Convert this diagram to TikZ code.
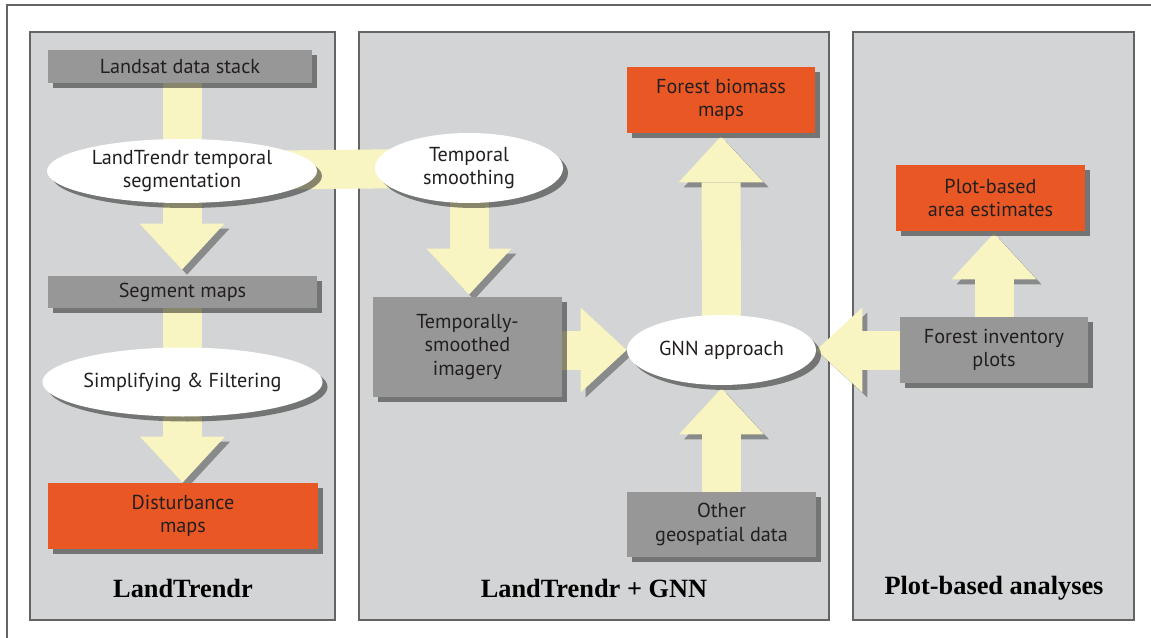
\documentclass[tikz,border=0pt]{standalone}
\usepackage{fontspec}
\setmainfont{PT Sans}
\newfontfamily\titlefont{Liberation Serif}
\usepackage{xcolor}
\usetikzlibrary{shapes.geometric, arrows.meta, positioning, shadows}
\definecolor{panelgray}{RGB}{211, 212, 213}
\definecolor{boxgray}{RGB}{151, 151, 151}
\definecolor{mapred}{RGB}{233, 88, 36}
\definecolor{flowyellow}{RGB}{248, 245, 194}
\definecolor{framegray}{RGB}{100, 100, 100}
\definecolor{inkgray}{RGB}{35, 31, 32}
\pgfdeclarelayer{panels}
\pgfdeclarelayer{flows}
\pgfsetlayers{panels,flows,main}

\begin{document}
\begin{tikzpicture}[
    font=\fontsize{11.5}{13.2}\selectfont,
    softshadow/.style={drop shadow={shadow xshift=0.1cm, shadow yshift=-0.1cm, opacity=0.45, fill=black}},
    databox/.style={rectangle, fill=boxgray, text=inkgray, align=center, inner sep=0pt, softshadow},
    mapbox/.style={databox, fill=mapred},
    process/.style={ellipse, fill=white, text=inkgray, align=center, inner sep=0pt, softshadow},
    panel/.style={rectangle, draw=framegray, line width=0.9pt, fill=panelgray},
    paneltitle/.style={font=\titlefont\bfseries\fontsize{15}{18}\selectfont, text=black},
    flow/.style={draw=flowyellow, line width=0.78cm,
                 preaction={draw=black, opacity=0.35, transform canvas={shift={(0.1cm,-0.1cm)}}}},
    arrow/.style={flow, -{Triangle[width=1.7cm, length=0.92cm, line width=0pt]}}
]
    \useasboundingbox (0,0) rectangle (23.02,-12.76);

    \begin{pgfonlayer}{panels}
        \draw[framegray, line width=0.9pt] (0.14,-0.10) rectangle (23.6,-13.3);
        \draw[panel] (0.60,-0.64) rectangle (6.70,-12.40);
        \draw[panel] (7.18,-0.64) rectangle (16.58,-12.40);
        \draw[panel] (17.06,-0.64) rectangle (22.68,-12.40);
    \end{pgfonlayer}

    % LandTrendr
    \node[databox, minimum width=5.28cm, minimum height=0.66cm] (landsat) at (3.60,-1.33) {Landsat data stack};
    \node[process, minimum width=5.40cm, minimum height=1.28cm] (segment) at (3.64,-3.42) {LandTrendr temporal\\segmentation};
    \node[databox, minimum width=5.38cm, minimum height=0.64cm] (segmaps) at (3.65,-5.84) {Segment maps};
    \node[process, minimum width=5.42cm, minimum height=1.38cm] (filter) at (3.65,-7.64) {Simplifying \& Filtering};
    \node[mapbox, minimum width=5.40cm, minimum height=1.32cm] (disturb) at (3.66,-10.32) {Disturbance\\maps};
    \node[paneltitle] (ltlabel) at (3.66,-11.76) {LandTrendr};

    % LandTrendr + GNN
    \node[process, minimum width=3.76cm, minimum height=1.40cm] (smooth) at (9.38,-3.36) {Temporal\\smoothing};
    \node[databox, minimum width=3.78cm, minimum height=2.00cm] (smoothimg) at (9.35,-6.94) {Temporally-\\smoothed\\imagery};
    \node[mapbox, minimum width=3.76cm, minimum height=1.32cm] (biomass) at (14.42,-2.00) {Forest biomass\\maps};
    \node[process, minimum width=3.78cm, minimum height=1.40cm] (gnn) at (14.43,-7.00) {GNN approach};
    \node[databox, minimum width=3.78cm, minimum height=1.30cm] (geodata) at (14.43,-10.49) {Other\\geospatial data};
    \node[paneltitle] (gnnlabel) at (11.88,-11.76) {LandTrendr + GNN};

    % Plot-based analyses
    \node[mapbox, minimum width=3.78cm, minimum height=1.32cm] (areaest) at (19.81,-3.96) {Plot-based\\area estimates};
    \node[databox, minimum width=3.76cm, minimum height=1.32cm] (plots) at (19.88,-7.00) {Forest inventory\\plots};
    \node[paneltitle] (plotlabel) at (19.88,-11.76) {Plot-based analyses};

    \begin{pgfonlayer}{flows}
        \draw[flow] (segment.center |- landsat.south) -- (segment.center);
        \draw[arrow, shorten >=0.12cm] (segment.center) -- (segment.center |- segmaps.north);
        \draw[flow] (segmaps.south) -- (filter.center);
        \draw[arrow] (filter.center) -- (filter.center |- disturb.north);
        \draw[flow] (segment.center) -- (smooth.center);
        \draw[arrow, shorten >=0.04cm] (smooth.center) -- (smooth.center |- smoothimg.north);
        \draw[arrow] (smoothimg.east |- gnn.west) -- (gnn.west);
        \draw[arrow, shorten >=0.06cm] (gnn.center) -- (biomass.south);
        \draw[arrow, shorten >=0.06cm] (geodata.north) -- (gnn.south);
        \draw[arrow] (plots.west) -- (gnn.east);
        \draw[arrow, shorten >=0.04cm] (plots.north) -- (plots.north |- areaest.south);
    \end{pgfonlayer}
\end{tikzpicture}
\end{document}
